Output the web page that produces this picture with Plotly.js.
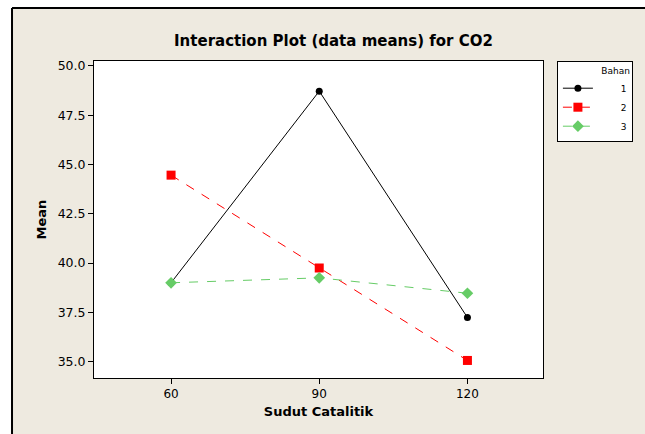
<!DOCTYPE html>
<html>
<head>
<meta charset="utf-8">
<script src="https://cdn.plot.ly/plotly-3.0.1.min.js"></script>
<style>
  html, body { margin:0; padding:0; background:#EEEAE0; overflow:hidden; width:645px; height:434px; }
  #chart { position:absolute; left:0; top:0; width:645px; height:434px; overflow:hidden; }
</style>
</head>
<body>
<div id="chart"></div>
<script>
const categories = ["60", "90", "120"];
const seriesNames = ["1", "2", "3"];
const bahan1 = [39.0, 48.72, 37.24];
const bahan2 = [44.46, 39.75, 35.06];
const bahan3 = [39.0, 39.25, 38.47];
const yTicks = [35.0, 37.5, 40.0, 42.5, 45.0, 47.5, 50.0];

const font = "DejaVu Sans, Verdana, sans-serif";
const pad = "\u00A0".repeat(8);

const traces = [
  { x: categories, y: bahan1, name: pad + seriesNames[0], type: "scatter", mode: "lines+markers",
    line: { color: "#000000", width: 1, dash: "solid" },
    marker: { symbol: "circle", size: 7, color: "#000000" } },
  { x: categories, y: bahan2, name: pad + seriesNames[1], type: "scatter", mode: "lines+markers",
    line: { color: "#FF0000", width: 1, dash: "dash" },
    marker: { symbol: "square", size: 9, color: "#FF0000" } },
  { x: categories, y: bahan3, name: pad + seriesNames[2], type: "scatter", mode: "lines+markers",
    line: { color: "#66CC66", width: 1, dash: "dash" },
    marker: { symbol: "diamond", size: 9, color: "#66CC66" } }
];

// page frame: white strip left/top with black edge lines (paper coords outside plot area)
const shapes = [
  { type: "rect", xref: "paper", yref: "paper", x0: 1.2138, x1: 1.5, y0: -0.3, y1: 1.1672, fillcolor: "#EEEAE0", line: { width: 0 }, layer: "above" },
  { type: "rect", xref: "paper", yref: "paper", x0: -0.3, x1: -0.1826, y0: -0.3, y1: 1.3, fillcolor: "#ffffff", line: { width: 0 }, layer: "above" },
  { type: "rect", xref: "paper", yref: "paper", x0: -0.3, x1: 1.5, y0: 1.1672, y1: 1.3, fillcolor: "#ffffff", line: { width: 0 }, layer: "above" },
  { type: "line", xref: "paper", yref: "paper", x0: -0.1826, x1: -0.1826, y0: -0.3, y1: 1.1672, line: { color: "#000", width: 2 }, layer: "above" },
  { type: "line", xref: "paper", yref: "paper", x0: -0.1826, x1: 1.5, y0: 1.1672, y1: 1.1672, line: { color: "#000", width: 2 }, layer: "above" }
];

const layout = {
  width: 645, height: 434,
  paper_bgcolor: "#EEEAE0",
  plot_bgcolor: "#ffffff",
  margin: { l: 94, r: 102, t: 61, b: 56 },
  font: { family: font, size: 12, color: "#000000" },
  title: { text: "<b>Interaction Plot (data means) for CO2</b>", font: { family: font, size: 15, color: "#000" },
           x: 0.517, xref: "container", xanchor: "center", y: 0.905, yref: "container", yanchor: "middle" },
  xaxis: {
    type: "category", categoryorder: "array", categoryarray: categories,
    range: [-0.52, 2.51],
    showgrid: false, zeroline: false,
    showline: true, linecolor: "#000", linewidth: 1, mirror: true,
    ticks: "outside", ticklen: 5, tickcolor: "#000", tickwidth: 1,
    tickfont: { family: font, size: 12 },
    title: { text: "<b>Sudut Catalitik</b>", font: { family: font, size: 13 }, standoff: 6 }
  },
  yaxis: {
    range: [34.17, 50.25],
    tickmode: "array", tickvals: yTicks, ticktext: yTicks.map(v => v.toFixed(1)),
    showgrid: false, zeroline: false,
    showline: true, linecolor: "#000", linewidth: 1, mirror: true,
    ticks: "outside", ticklen: 5, tickcolor: "#000", tickwidth: 1,
    tickfont: { family: font, size: 12.5 },
    title: { text: "<b>Mean</b>", font: { family: font, size: 13 }, standoff: 8 }
  },
  legend: {
    x: 1.031, xanchor: "left", y: 1.0, yanchor: "top",
    bgcolor: "#ffffff", bordercolor: "#000", borderwidth: 1,
    font: { family: font, size: 9 },
    title: { text: "Bahan", side: "top right", font: { family: font, size: 9 } },
    tracegroupgap: 0, itemwidth: 30
  },
  shapes: shapes,
  showlegend: true
};

Plotly.newPlot("chart", traces, layout, { displayModeBar: false, staticPlot: true });
</script>
</body>
</html>
